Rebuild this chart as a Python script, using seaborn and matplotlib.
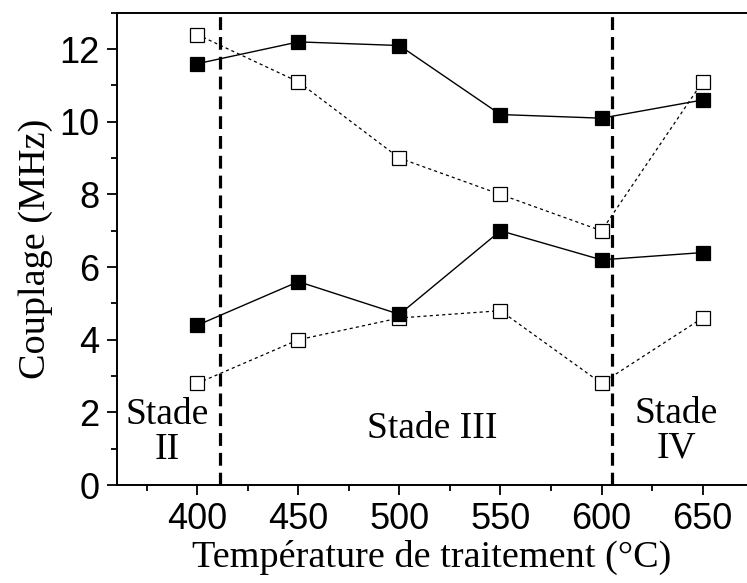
import matplotlib
matplotlib.use("Agg")
import matplotlib.pyplot as plt
import seaborn as sns
from matplotlib.ticker import MultipleLocator

# data
temps = [400, 450, 500, 550, 600, 650]
haut_plein = [11.6, 12.2, 12.1, 10.2, 10.1, 10.6]
haut_vide = [12.4, 11.1, 9.0, 8.0, 7.0, 11.1]
bas_plein = [4.4, 5.6, 4.7, 7.0, 6.2, 6.4]
bas_vide = [2.8, 4.0, 4.6, 4.8, 2.8, 4.6]
limites = [411, 605]

sns.set_style("ticks", {"axes.edgecolor": "black", "text.color": "black",
                        "axes.labelcolor": "black", "xtick.color": "black",
                        "ytick.color": "black"})
plt.rcParams["font.family"] = ["Liberation Sans", "DejaVu Sans"]

fig = plt.figure(figsize=(7.47, 5.83), dpi=100)
ax = fig.add_axes([0.156, 0.168, 0.844, 0.81])

for x in limites:
    ax.axvline(x, color="black", lw=2.3, linestyle=(0, (4, 2.2)), zorder=1)

series = [
    (haut_vide, "white", (0, (2.5, 2.5)), 0.9),
    (bas_vide, "white", (0, (2.5, 2.5)), 0.9),
    (haut_plein, "black", "-", 1.0),
    (bas_plein, "black", "-", 1.0),
]
for vals, face, ls, lw in series:
    sns.lineplot(x=temps, y=vals, ax=ax, color="black", linestyle=ls, lw=lw,
                 marker="s", markersize=10, markerfacecolor=face,
                 markeredgecolor="black", markeredgewidth=0.9, zorder=3)

serif = ["Liberation Serif", "DejaVu Serif"]
ax.text(385, 1.45, "Stade\nII", ha="center", va="center", fontsize=27,
        family=serif, linespacing=1.0)
ax.text(516, 1.55, "Stade III", ha="center", va="center", fontsize=27,
        family=serif)
ax.text(637, 1.5, "Stade\nIV", ha="center", va="center", fontsize=27,
        family=serif, linespacing=1.0)

ax.set_xlim(360, 672)
ax.set_ylim(0, 13)
ax.xaxis.set_major_locator(MultipleLocator(50))
ax.xaxis.set_minor_locator(MultipleLocator(25))
ax.yaxis.set_major_locator(MultipleLocator(2))
ax.yaxis.set_minor_locator(MultipleLocator(1))
ax.tick_params(which="major", length=7.5, width=1.3, labelsize=26, direction="out", pad=5)
ax.tick_params(which="minor", length=4, width=1.3, direction="out")

ax.set_xlabel("Température de traitement (°C)", fontsize=27.5, family=serif, labelpad=2)
ax.set_ylabel("Couplage (MHz)", fontsize=27.5, family=serif, labelpad=4)

for s in ["left", "bottom", "top"]:
    ax.spines[s].set_linewidth(1.4)
ax.spines["right"].set_visible(False)

fig.savefig("out.png", dpi=100)
